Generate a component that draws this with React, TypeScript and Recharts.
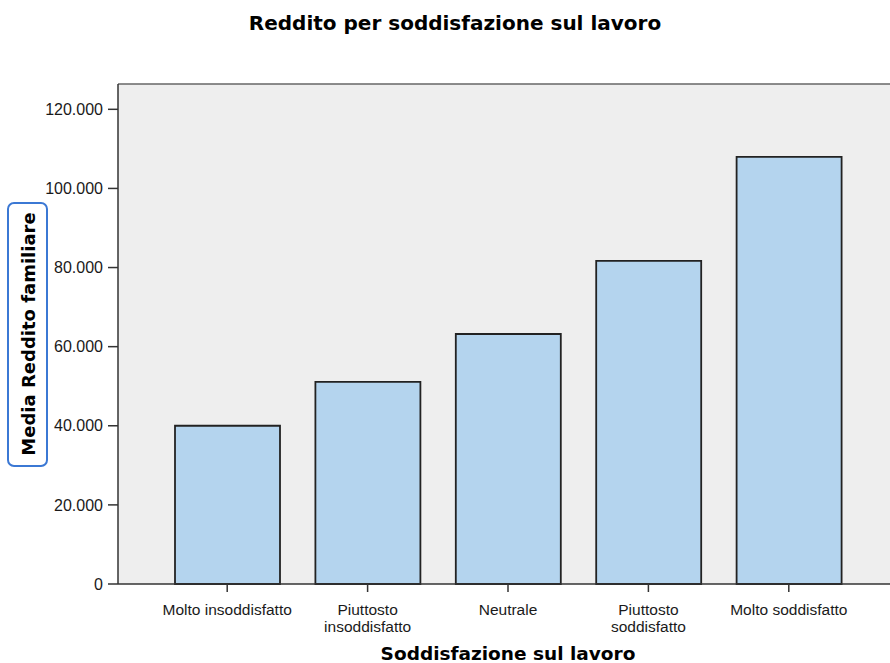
import { Bar, BarChart, CartesianGrid, Label, ReferenceLine, XAxis, YAxis } from "recharts";

const categories = [
  "Molto insoddisfatto",
  "Piuttosto insoddisfatto",
  "Neutrale",
  "Piuttosto soddisfatto",
  "Molto soddisfatto",
];
const tickLines = [
  ["Molto insoddisfatto"],
  ["Piuttosto", "insoddisfatto"],
  ["Neutrale"],
  ["Piuttosto", "soddisfatto"],
  ["Molto soddisfatto"],
];
const means = [40000, 51100, 63200, 81700, 108000];
const yTicks = [0, 20000, 40000, 60000, 80000, 100000, 120000];
const yMax = 126400;

const data = categories.map((name, i) => ({ name, mean: means[i], lines: tickLines[i] }));

const sans = "'Liberation Sans', Arial, sans-serif";
const bold = "'DejaVu Sans', sans-serif";

const fmt = (v: number) => String(v).replace(/\B(?=(\d{3})+(?!\d))/g, ".");

function XTick({ x, y, index }: any) {
  const lines = tickLines[index] || [];
  return (
    <g transform={`translate(${x},${y})`}>
      {lines.map((l, i) => (
        <text key={i} x={0} y={21 + i * 16.5} textAnchor="middle" fontFamily={sans} fontSize={15.5} fill="#1a1a1a">
          {l}
        </text>
      ))}
    </g>
  );
}

function YLabel({ viewBox }: any) {
  const cy = viewBox.y + viewBox.height / 2;
  return (
    <g>
      <rect x={8} y={cy - 131} width={39} height={263} rx={6} fill="#fff" stroke="#3b78d4" strokeWidth={2} />
      <text
        x={28}
        y={cy}
        transform={`rotate(-90 28 ${cy})`}
        textAnchor="middle"
        dominantBaseline="central"
        fontFamily={bold}
        fontWeight="bold"
        fontSize={18}
        fill="#000"
      >
        Media Reddito familiare
      </text>
    </g>
  );
}

function XLabel({ viewBox }: any) {
  return (
    <text x={508} y={viewBox.y + 76} textAnchor="middle" fontFamily={bold} fontWeight="bold" fontSize={18.5} fill="#000">
      Soddisfazione sul lavoro
    </text>
  );
}

export default function App() {
  return (
    <div style={{ position: "absolute", left: 0, top: 0, width: 890, height: 663, background: "#fff" }}>
      <div
        style={{
          position: "absolute",
          left: 0,
          top: 13,
          width: 910,
          textAlign: "center",
          fontFamily: bold,
          fontWeight: "bold",
          fontSize: 20,
          lineHeight: "20px",
          color: "#000",
        }}
      >
        Reddito per soddisfazione sul lavoro
      </div>
      <BarChart width={890} height={663} data={data} margin={{ top: 84, right: 0, bottom: 0, left: 0 }}>
        <CartesianGrid fill="#eeeeee" horizontal={false} vertical={false} />
        <XAxis
          dataKey="name"
          height={79}
          padding={{ left: 39, right: 31 }}
          tick={<XTick />}
          tickSize={8}
          interval={0}
          stroke="#333"
          strokeWidth={1.5}
        >
          <Label content={<XLabel />} />
        </XAxis>
        <YAxis
          width={118}
          domain={[0, yMax]}
          ticks={yTicks}
          tickFormatter={fmt}
          tickSize={10}
          tickMargin={5}
          stroke="#333"
          strokeWidth={1.5}
          tick={{ fill: "#1a1a1a", fontFamily: sans, fontSize: 16 }}
        >
          <Label content={<YLabel />} />
        </YAxis>
        <ReferenceLine y={yMax} stroke="#666" strokeWidth={1.5} />
        <Bar dataKey="mean" barSize={105} fill="#b4d4ee" stroke="#222" strokeWidth={1.8} isAnimationActive={false} />
      </BarChart>
    </div>
  );
}
